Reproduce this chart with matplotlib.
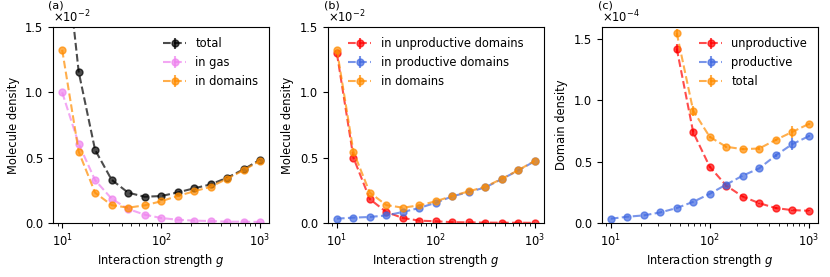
import numpy as np
import matplotlib
matplotlib.use("Agg")
import matplotlib.pyplot as plt

# interaction strength g (log spaced)
g = [10, 14.7, 21.5, 31.6, 46.4, 68.1, 100, 147, 215, 316, 464, 681, 1000]

# panel (a), molecule density in units of 1e-2
a_total   = [2.32, 1.155, 0.56, 0.331, 0.232, 0.201, 0.206, 0.234, 0.265, 0.295, 0.346, 0.41, 0.484]
a_gas     = [1.0, 0.605, 0.328, 0.186, 0.107, 0.064, 0.038, 0.025, 0.018, 0.015, 0.01, 0.01, 0.008]
a_domains = [1.325, 0.545, 0.232, 0.137, 0.117, 0.135, 0.166, 0.207, 0.242, 0.277, 0.338, 0.404, 0.476]

# panel (b), molecule density in units of 1e-2
b_unprod  = [1.298, 0.499, 0.183, 0.084, 0.038, 0.018, 0.013, 0.006, 0.005, 0.003, 0.002, 0.002, 0.001]
b_prod    = [0.033, 0.041, 0.046, 0.058, 0.084, 0.115, 0.155, 0.204, 0.237, 0.272, 0.336, 0.402, 0.473]
b_domains = [1.325, 0.545, 0.232, 0.137, 0.117, 0.135, 0.166, 0.207, 0.242, 0.277, 0.338, 0.404, 0.476]

# panel (c), domain density in units of 1e-4
nan = np.nan
c_unprod = [nan, nan, nan, nan, 1.424, 0.74, 0.459, 0.305, 0.216, 0.162, 0.122, 0.105, 0.1]
c_prod   = [0.035, 0.051, 0.062, 0.086, 0.122, 0.173, 0.238, 0.314, 0.386, 0.446, 0.551, 0.643, 0.708]
c_total  = [nan, nan, nan, nan, 1.551, 0.916, 0.703, 0.622, 0.603, 0.608, 0.678, 0.743, 0.808]
c_unprod_err = [0, 0, 0, 0, 0.04, 0.02, 0.01, 0.01, 0.005, 0.005, 0.005, 0.005, 0.005]
c_prod_err   = [0, 0, 0, 0, 0, 0, 0, 0, 0, 0, 0.01, 0.05, 0.01]
c_total_err  = [0, 0, 0, 0, 0.03, 0.04, 0.01, 0.01, 0.01, 0.01, 0.01, 0.05, 0.01]

plt.rcParams['font.size'] = 8.3

fig = plt.figure(figsize=(8.3, 2.77), dpi=100)
left = [0.064, 0.395, 0.725]
axs = [fig.add_axes([l, 0.195, 0.26, 0.7075]) for l in left]

def curve(ax, y, color, label, err=None):
    if err is None:
        err = np.zeros(len(y))
    ax.errorbar(g, y, yerr=err, fmt='o--', color=color, alpha=0.7,
                markersize=5, linewidth=1.5, label=label)

def style(ax, ylabel, ylim, expo, loc='upper right'):
    ax.set_xscale('log')
    ax.set_xlim(8.1, 1230)
    ax.set_ylim(*ylim)
    ax.set_yticks([0, 0.5, 1.0, 1.5])
    ax.set_yticklabels(['0.0', '0.5', '1.0', '1.5'])
    # scale factor shown above the y axis
    ax.text(0.0, 1.01, r'$\times\mathregular{10^{%d}}$' % expo,
            transform=ax.transAxes, ha='left', va='bottom')
    ax.set_xlabel('Interaction strength $g$', labelpad=2)
    ax.set_ylabel(ylabel)
    ax.legend(frameon=False, loc=loc)

ax = axs[0]
curve(ax, a_total, 'k', 'total')
curve(ax, a_gas, 'violet', 'in gas')
curve(ax, a_domains, 'darkorange', 'in domains')
style(ax, 'Molecule density', (0, 1.5), -2)

ax = axs[1]
curve(ax, b_unprod, 'red', 'in unproductive domains')
curve(ax, b_prod, 'royalblue', 'in productive domains')
curve(ax, b_domains, 'darkorange', 'in domains')
style(ax, 'Molecule density', (0, 1.5), -2, loc='upper center')

ax = axs[2]
curve(ax, c_unprod, 'red', 'unproductive', c_unprod_err)
curve(ax, c_prod, 'royalblue', 'productive', c_prod_err)
curve(ax, c_total, 'darkorange', 'total', c_total_err)
style(ax, 'Domain density', (0, 1.6), -4)

for lab, x in zip(['(a)', '(b)', '(c)'], [0.058, 0.39, 0.72]):
    fig.text(x, 1.0, lab, va='top', ha='left', fontsize=8)

fig.savefig('out.png', dpi=100)
